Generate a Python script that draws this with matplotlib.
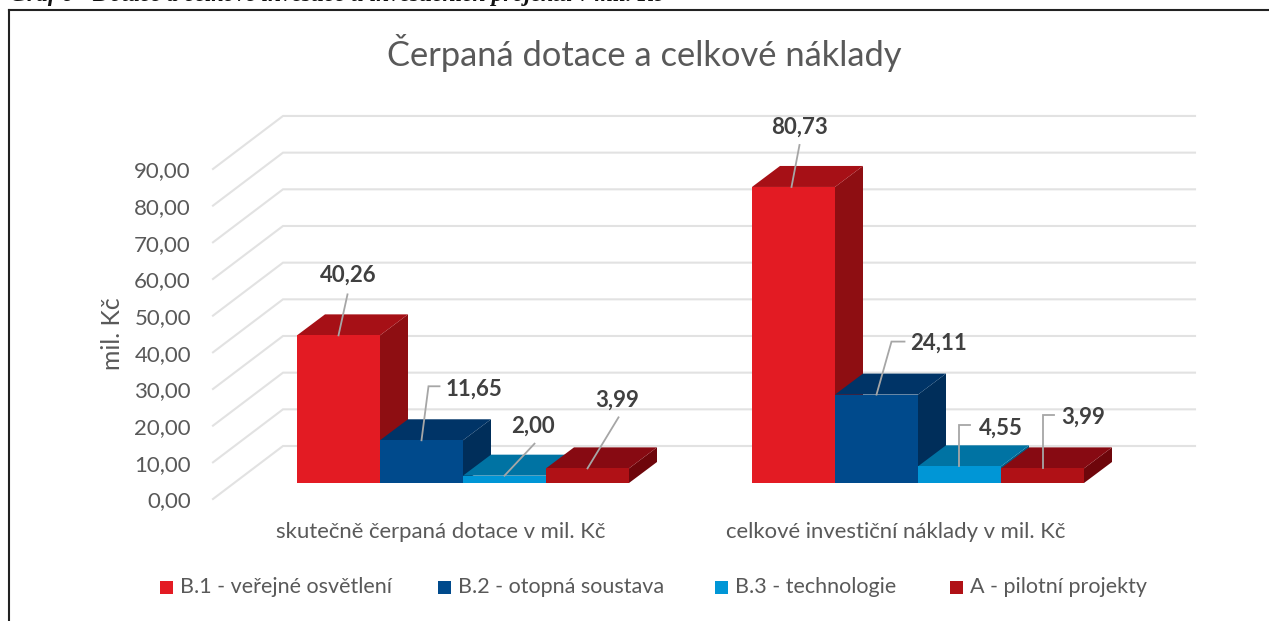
import matplotlib
matplotlib.use('Agg')
import matplotlib.pyplot as plt
from matplotlib.patches import Polygon, Rectangle

plt.rcParams['font.family'] = ['Lato', 'DejaVu Sans']

# Data
categories = ['skutečně čerpaná dotace v mil. Kč', 'celkové investiční náklady v mil. Kč']
series_names = ['B.1 - veřejné osvětlení', 'B.2 - otopná soustava', 'B.3 - technologie', 'A - pilotní projekty']
cerpana = [40.26, 11.65, 2.00, 3.99]
naklady = [80.73, 24.11, 4.55, 3.99]
y_ticks = [0, 10, 20, 30, 40, 50, 60, 70, 80, 90]

front_colors = ['#E31B23', '#004A8C', '#0096D6', '#B01116']
top_colors = ['#A61016', '#003467', '#0073A3', '#870A12']
side_colors = ['#8E0E12', '#002E5A', '#005F88', '#6E060B']
text_color = '#595959'
label_color = '#404040'
grid_color = '#E2E2E2'

W, H = 1269, 621
fig = plt.figure(figsize=(W / 100, H / 100), dpi=100)
ax = fig.add_axes([0, 0, 1, 1])

# one unit of x = distance between the groups, one unit of y = 1 mil. Kč
PX_X = 455.0
PX_Y = 3.667
X0 = 463.0
Y0 = 483.0
ax.set_xlim(-X0 / PX_X, (W - X0) / PX_X)
ax.set_ylim((Y0 - H) / PX_Y, Y0 / PX_Y)
ax.axis('off')


def dx(px):
    return px / PX_X


def dy(px):
    return px / PX_Y


bar_w = dx(83)
depth_x, depth_y = dx(28), dy(21)

# back wall gridlines with the slanted part on the floor side
for t in y_ticks:
    ax.plot([dx(213 - X0), dx(283 - X0), dx(1195 - X0)],
            [t + dy(-16), t + dy(37), t + dy(37)],
            color=grid_color, lw=1.5, solid_joinstyle='miter', zorder=1)
    ax.text(dx(191 - X0), t + dy(-16.5), f'{t},00', ha='right', va='center_baseline',
            fontsize=16, color=text_color)


def draw_bar(x, val, i):
    z = 2 + i
    ax.add_patch(Polygon([(x + bar_w, 0), (x + bar_w + depth_x, depth_y),
                          (x + bar_w + depth_x, val + depth_y), (x + bar_w, val)],
                         fc=side_colors[i], ec='none', zorder=z))
    ax.add_patch(Polygon([(x, val), (x + depth_x, val + depth_y),
                          (x + bar_w + depth_x, val + depth_y), (x + bar_w, val)],
                         fc=top_colors[i], ec='none', zorder=z))
    ax.add_patch(Rectangle((x, 0), bar_w, val, fc=front_colors[i], ec='none', zorder=z))


for g, values in enumerate([cerpana, naklady]):
    for i, val in enumerate(values):
        draw_bar(g - 2 * bar_w + i * bar_w, val, i)
    ax.text(g - dx(22), dy(-49), categories[g], ha='center', va='center', fontsize=15.9, color=text_color)

# data labels with leader lines (offsets in pixels from the bar's front top centre)
label_offsets = [
    [(10, -60, [(0, 0), (9, -41)]), (52, -51, [(0, 0), (7, -54), (18, -54)]),
     (28, -49, [(0, 0), (30, -32)]), (30, -68, [(0, 0), (31, -51)])],
    [(6, -60, [(-2, 0), (6, -42)]), (62, -51, [(0, 0), (15, -53), (28, -53)]),
     (41, -38, [(0, 0), (0, -41), (11, -41)]), (41, -51, [(0, 0), (0, -53), (12, -53)])],
]
for g, values in enumerate([cerpana, naklady]):
    for i, val in enumerate(values):
        cx = g - 2 * bar_w + (i + 0.5) * bar_w
        lx, ly, path = label_offsets[g][i]
        xs = [cx + dx(p[0]) for p in path]
        ys = [val + dy(-p[1]) for p in path]
        ax.plot(xs, ys, color='#A6A6A6', lw=1.3, zorder=10, solid_joinstyle='miter')
        ax.text(cx + dx(lx), val + dy(-ly), f'{val:.2f}'.replace('.', ','), ha='center', va='center',
                fontsize=16, fontweight='bold', color=label_color, zorder=11)

# titles
ax.text(dx(644 - X0), dy(Y0 - 53.5), 'Čerpaná dotace a celkové náklady', ha='center', va='center',
        fontsize=24.8, color=text_color)
ax.text(dx(113 - X0), dy(Y0 - 334), 'mil. Kč', rotation=90, ha='center', va='center',
        fontsize=17.8, color=text_color)

# legend
legend_x = [160, 438, 715, 950]
for name, c, lx in zip(series_names, front_colors, legend_x):
    ax.add_patch(Rectangle((dx(lx - X0), dy(Y0 - 594)), dx(13), dy(13), fc=c, ec='none', zorder=5))
    ax.text(dx(lx + 20 - X0), dy(Y0 - 587), name, ha='left', va='center', fontsize=15.5, color=text_color)

# frame and clipped caption of the page around the chart
ax.plot([dx(9.5 - X0), dx(9.5 - X0)], [dy(Y0 - H), dy(Y0 - 10.5)], color='#222222', lw=1.5, zorder=20)
ax.plot([dx(9 - X0), dx(W - X0)], [dy(Y0 - 10.5), dy(Y0 - 10.5)], color='#222222', lw=1.5, zorder=20)
ax.text(dx(10 - X0), dy(Y0 - 1), 'Graf 6 - Dotace a celkové investice u investičních projektů v mil. Kč',
        family='Liberation Serif', style='italic', fontweight='bold', fontsize=16.9, color='#111111',
        ha='left', va='baseline', zorder=21)

fig.savefig('out.png', dpi=100)
